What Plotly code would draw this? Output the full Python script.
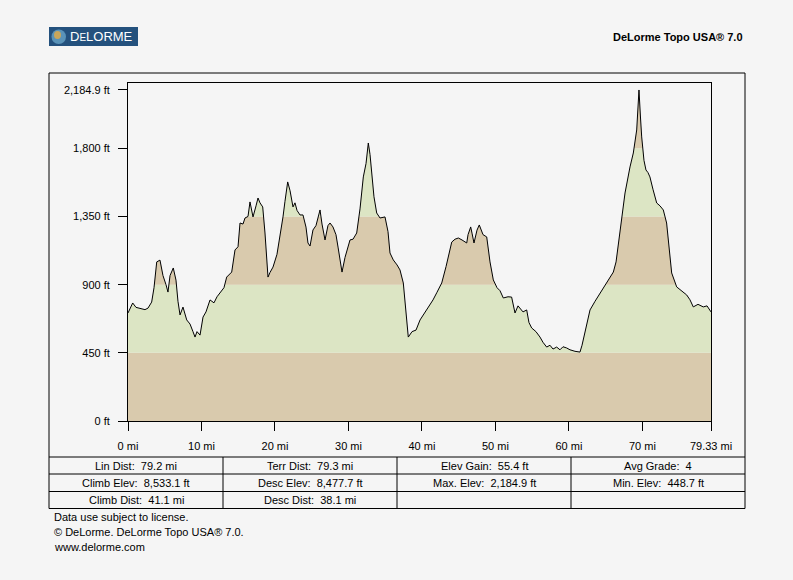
import plotly.graph_objects as go

# elevation profile (distance in mi, elevation in ft)
dist_mi = [0.0, 0.64, 1.09, 1.63, 2.31, 2.72, 3.22, 3.54, 3.91, 4.35, 4.76, 5.17, 5.44, 5.72,
           6.16, 6.53, 6.80, 7.08, 7.48, 7.99, 8.44, 8.84, 9.12, 9.39, 9.80, 10.21, 10.61,
           11.16, 11.70, 12.11, 12.52, 13.06, 13.43, 14.11, 14.56, 14.97, 15.24, 15.65, 15.92,
           16.33, 16.60, 17.01, 17.42, 17.69, 17.96, 18.33, 18.64, 19.05, 19.32, 19.73, 20.27,
           20.68, 21.09, 21.36, 21.73, 22.05, 22.45, 22.72, 23.00, 23.40, 23.81, 24.22, 24.49,
           24.77, 25.17, 25.58, 26.13, 26.40, 26.81, 27.21, 27.49, 27.89, 28.30, 28.58, 29.12,
           29.53, 30.21, 30.62, 31.12, 31.57, 32.02, 32.39, 32.70, 32.93, 33.16, 33.47, 33.84,
           34.29, 34.97, 35.38, 35.65, 36.10, 36.61, 37.01, 37.46, 37.83, 38.14, 38.65, 39.19,
           39.74, 40.64, 41.50, 42.05, 42.69, 43.28, 44.05, 44.50, 44.95, 45.45, 46.09, 46.27,
           46.63, 46.81, 47.08, 47.49, 47.80, 48.31, 48.81, 49.26, 49.71, 50.21, 50.62, 51.07,
           51.71, 52.20, 52.66, 53.07, 53.34, 53.75, 54.25, 54.56, 54.93, 55.51, 56.06, 56.46,
           56.97, 57.42, 57.83, 58.33, 58.78, 59.19, 59.69, 60.14, 60.82, 61.50, 61.78, 62.19,
           62.87, 63.55, 64.23, 64.91, 65.59, 66.04, 66.41, 66.72, 67.18, 67.63, 68.31, 68.76,
           69.22, 69.40, 69.53, 69.74, 69.90, 70.21, 70.48, 70.75, 71.02, 71.43, 71.94, 72.39,
           72.84, 73.29, 73.61, 73.98, 74.66, 75.24, 76.02, 76.47, 76.92, 77.56, 78.28, 78.79,
           79.33]
elev_ft = [713, 779, 750, 745, 735, 745, 785, 880, 1050, 1062, 960, 900, 851, 960,
           1010, 930, 790, 700, 752, 667, 640, 590, 554, 590, 567, 686, 720,
           799, 780, 820, 845, 880, 950, 983, 1129, 1150, 1307, 1300, 1340,
           1350, 1446, 1347, 1420, 1472, 1440, 1413, 1241, 950, 980, 1016, 1100,
           1215, 1347, 1450, 1578, 1520, 1413, 1440, 1390, 1360, 1360, 1280, 1175,
           1155, 1261, 1290, 1393, 1300, 1195, 1290, 1307, 1281, 1230, 1148, 983,
           1080, 1195, 1200, 1241, 1400, 1611, 1700, 1835, 1760, 1657, 1480, 1373,
           1340, 1347, 1250, 1109, 1063, 1030, 997, 911, 700, 554, 590, 600,
           667, 733, 799, 850, 911, 1020, 1181, 1200, 1208, 1195, 1175, 1230,
           1281, 1240, 1175, 1260, 1294, 1230, 1215, 1050, 931, 880, 860, 812,
           820, 818, 713, 760, 746, 720, 733, 650, 614, 590, 554, 520,
           488, 500, 475, 488, 470, 490, 482, 470, 460, 455, 500, 581,
           733, 790, 845, 900, 950, 983, 1050, 1175, 1347, 1505, 1677, 1769,
           1921, 2050, 2184.9, 2000, 1875, 1720, 1657, 1640, 1611, 1530, 1439, 1420,
           1393, 1307, 1150, 977, 885, 860, 832, 800, 753, 770, 753, 760,
           720]

y_ticks = [0, 450, 900, 1350, 1800, 2184.9]
y_labels = ["0 ft", "450 ft", "900 ft", "1,350 ft", "1,800 ft", "2,184.9 ft"]
x_ticks = [0, 10, 20, 30, 40, 50, 60, 70, 79.33]
x_labels = ["0 mi", "10 mi", "20 mi", "30 mi", "40 mi", "50 mi", "60 mi", "70 mi", "79.33 mi"]

band_edges = [0, 450, 900, 1350, 1800, 2250]
band_colors = ["#D9CAAD", "#DCE5C4", "#D9CAAD", "#DCE5C4", "#D9CAAD"]

stats_rows = [
    ["Lin Dist:  79.2 mi", "Terr Dist:  79.3 mi", "Elev Gain:  55.4 ft", "Avg Grade:  4"],
    ["Climb Elev:  8,533.1 ft", "Desc Elev:  8,477.7 ft", "Max. Elev:  2,184.9 ft", "Min. Elev:  448.7 ft"],
    ["Climb Dist:  41.1 mi", "Desc Dist:  38.1 mi", "", ""],
]
footer = ["Data use subject to license.", "\u00a9 DeLorme. DeLorme Topo USA\u00ae 7.0.", "www.delorme.com"]

BG = "#F5F5F5"
FONT = "Liberation Sans, Arial, sans-serif"
Y_TOP = 2231

# plot area in pixels: x 128..711, y 83..421
L, R, T, B = 128, 711, 83, 421


def px(x):
    return (x - L) / (R - L)


def py(y):
    return (B - y) / (B - T)


fig = go.Figure()

# hidden top line, then profile filled up to it with the background colour
fig.add_trace(go.Scatter(x=dist_mi, y=[Y_TOP] * len(dist_mi), mode="lines",
                         line=dict(width=0), hoverinfo="skip", showlegend=False))
fig.add_trace(go.Scatter(x=dist_mi, y=elev_ft, mode="lines", fill="tonexty", fillcolor=BG,
                         line=dict(color="black", width=1), showlegend=False))

shapes = []
for i, c in enumerate(band_colors):
    shapes.append(dict(type="rect", xref="x", yref="y", x0=0, x1=79.33,
                       y0=band_edges[i], y1=min(band_edges[i + 1], Y_TOP),
                       fillcolor=c, line=dict(width=0), layer="below"))

line_k = dict(color="black", width=1)
# outer frame
shapes.append(dict(type="rect", xref="paper", yref="paper", x0=px(49), x1=px(745),
                   y0=py(73), y1=py(508.5), line=line_k))
# table grid
for yy in [457, 474, 491.5]:
    shapes.append(dict(type="line", xref="paper", yref="paper", x0=px(49), x1=px(745),
                       y0=py(yy), y1=py(yy), line=line_k))
for xx in [223, 397, 571]:
    shapes.append(dict(type="line", xref="paper", yref="paper", x0=px(xx), x1=px(xx),
                       y0=py(457), y1=py(508.5), line=line_k))
# logo
shapes.append(dict(type="rect", xref="paper", yref="paper", x0=px(49), x1=px(138),
                   y0=py(27), y1=py(46), fillcolor="#24517D", line=dict(width=0)))
shapes.append(dict(type="circle", xref="paper", yref="paper", x0=px(51.5), x1=px(66),
                   y0=py(29.5), y1=py(44), fillcolor="#5A93B8", line=dict(width=0)))
shapes.append(dict(type="circle", xref="paper", yref="paper", x0=px(54), x1=px(61),
                   y0=py(31), y1=py(39), fillcolor="#C9A65A", line=dict(width=0)))

annotations = []
annotations.append(dict(xref="paper", yref="paper", x=px(67.5), y=py(36.5), xanchor="left",
                        yanchor="middle", showarrow=False,
                        text="D<span style='font-size:10px'>E</span>LORME",
                        font=dict(family=FONT, size=13, color="white")))
annotations.append(dict(xref="paper", yref="paper", x=px(745), y=py(37), xanchor="right",
                        yanchor="middle", showarrow=False,
                        text="<b>DeLorme Topo USA\u00ae 7.0</b>",
                        font=dict(family=FONT, size=11, color="black")))

col_centers = [136, 310, 484, 658]
row_centers = [465.5, 483, 500]
for r, row in enumerate(stats_rows):
    for c, txt in enumerate(row):
        if not txt:
            continue
        annotations.append(dict(xref="paper", yref="paper", x=px(col_centers[c]),
                                y=py(row_centers[r]), xanchor="center", yanchor="middle",
                                showarrow=False, text=txt.replace("  ", "\u00a0\u00a0"),
                                font=dict(family=FONT, size=11, color="black")))

for i, txt in enumerate(footer):
    annotations.append(dict(xref="paper", yref="paper", x=px(52), y=py(517 + 15 * i),
                            xanchor="left", yanchor="middle", showarrow=False, text=txt,
                            font=dict(family=FONT, size=11, color="black")))

fig.update_layout(
    width=793, height=580,
    margin=dict(l=L, r=793 - R, t=T, b=580 - B, pad=0),
    paper_bgcolor=BG, plot_bgcolor=BG,
    font=dict(family=FONT, size=11, color="black"),
    shapes=shapes, annotations=annotations,
    showlegend=False, hovermode=False,
)
fig.update_xaxes(range=[0, 79.33], tickvals=x_ticks, ticktext=x_labels, ticks="outside",
                 ticklen=9, tickcolor="black", showgrid=False, zeroline=False,
                 showline=True, mirror=True, linecolor="black", linewidth=1,
                 ticklabelstandoff=6, tickfont=dict(family=FONT, size=11))
fig.update_yaxes(range=[0, Y_TOP], tickvals=y_ticks, ticktext=y_labels, ticks="outside",
                 ticklen=9, tickcolor="black", showgrid=False, zeroline=False,
                 showline=True, mirror=True, linecolor="black", linewidth=1,
                 ticklabelstandoff=6, tickfont=dict(family=FONT, size=11))

# the page body has a default 8px margin; remove it so the figure sits at 0,0
fig.write_html("out.html", config={"displayModeBar": False},
               post_script="document.body.style.margin='0';"
                           "document.body.style.overflow='hidden';"
                           "document.body.style.background='" + BG + "';")
